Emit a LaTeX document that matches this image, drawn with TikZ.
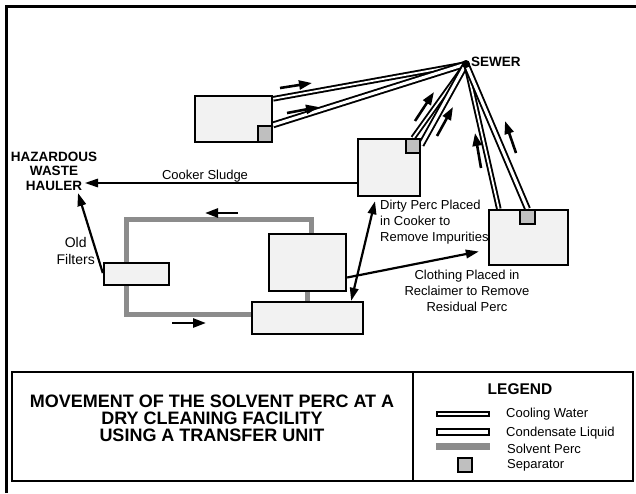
\documentclass[tikz,border=0pt]{standalone}
\usepackage{fontspec}
\setmainfont{Liberation Sans}
\usetikzlibrary{arrows.meta,backgrounds}
\definecolor{unitfill}{HTML}{F2F2F2}
\definecolor{sepfill}{HTML}{BFBFBF}
\definecolor{percgray}{HTML}{8C8C8C}

\begin{document}
\begin{tikzpicture}[x=1pt, y=-1pt,
    unit/.style={draw, line width=2.4pt, fill=unitfill, inner sep=0pt},
    sepbox/.style={draw, line width=2.2pt, fill=sepfill, inner sep=0pt, minimum size=14pt},
    perc/.style={percgray, line width=5pt},
    cooling/.style={double, line width=1.9pt, double distance=1.8pt},
    condensate/.style={double, line width=1.9pt, double distance=3pt},
    flow/.style={-{Triangle[length=13pt,width=9pt]}, line width=2.6pt},
    link/.style={-{Triangle[length=13pt,width=8.5pt]}, line width=2.2pt},
    lbl/.style={font=\fontsize{13}{16}\selectfont, align=center, inner sep=0pt},
    caps/.style={font=\fontsize{13.5}{14.5}\selectfont\bfseries, align=center, inner sep=0pt}]
    \useasboundingbox (0,0) rectangle (636,493);
    % outer frame, only top and left edges show
    \draw[line width=3pt] (6,493) -- (6,6) -- (636,6);

    % machines
    \node[unit, minimum width=77pt, minimum height=46pt] (dryer) at (233.5,119) {};
    \node[sepbox, minimum height=16pt] (drysep) at (265,134) {};
    \node[unit, minimum width=62pt, minimum height=57pt] (cooker) at (389,167.5) {};
    \node[sepbox] (cooksep) at (413,146) {};
    \node[unit, minimum width=79pt, minimum height=55pt] (reclaimer) at (528.5,237.5) {};
    \node[sepbox, minimum width=15pt] (recsep) at (527.5,217) {};
    \node[unit, minimum width=77pt, minimum height=57pt] (washer) at (307.5,262.5) {};
    \node[unit, minimum width=111pt, minimum height=32pt] (extractor) at (307.5,318) {};
    \node[unit, minimum width=65pt, minimum height=22pt] (filter) at (136.5,274) {};
    \coordinate (sewer) at (466,64);

    \begin{scope}[on background layer]
        % solvent perc loop
        \draw[perc] ([yshift=4pt]extractor.west) -| (126,219) -| ([xshift=3.5pt]washer.north);
        \draw[perc] (washer.south) -- (extractor.north);
        % cooling water and condensate to the sewer
        \draw[cooling] ([yshift=-4pt]dryer.north east) -- (sewer);
        \draw[condensate] (drysep.north east) -- (sewer);
        \draw[cooling] ([xshift=-8pt]cooksep.north east) -- (sewer);
        \draw[condensate] ([yshift=-7pt]cooksep.north east) -- (sewer);
        \draw[cooling] ([xshift=11pt]reclaimer.north west) -- (sewer);
        \draw[condensate] (recsep.north) -- (sewer);
    \end{scope}
    \fill (sewer) circle (4);

    % flow direction marks
    \foreach \xa/\ya/\xb/\yb in {280/88/312/83, 287/113/319/107, 415/121/434/92,
        437/136/453/107, 481/168/475/133, 516/153/505/121, 238/213/205/213, 172/323/206/323}
        \draw[flow] (\xa,\ya) -- (\xb,\yb);

    % labels
    \node[caps, anchor=west] (sewerlbl) at (471,62) {SEWER};
    \node[caps] (hauler) at (54,171) {HAZARDOUS\\WASTE\\HAULER};
    \coordinate (haulerin) at (85,183);
    \coordinate (haulerfoot) at (78,193);
    \node[lbl] (sludge) at (205,176) {Cooker Sludge};
    \node[lbl, font=\fontsize{14}{17}\selectfont, anchor=east] (filterlbl) at (95,251) {Old\\Filters};
    \node[lbl, align=left, anchor=west] (dirtylbl) at (380,222) {Dirty Perc Placed\\in Cooker to\\Remove Impurities};
    \node[lbl] (clothlbl) at (467,291) {Clothing Placed in\\Reclaimer to Remove\\Residual Perc};

    % material moves
    \draw[link, line width=1.6pt] ([yshift=-15.5pt]cooker.west) -- (haulerin);
    \draw[link] ([yshift=1pt]filter.west) -- (haulerfoot);
    \draw[link, {Triangle[length=13pt,width=8.5pt]}-{Triangle[length=13pt,width=8.5pt]}]
        ([xshift=-13pt]extractor.north east) -- ([xshift=-14pt,yshift=-4pt]cooker.south);
    \draw[link] ([yshift=-15pt]washer.east) -- ([xshift=-9pt,yshift=-14pt]reclaimer.west);

    % title and legend
    \node[draw, line width=2.4pt, minimum width=401pt, minimum height=109pt, inner sep=0pt] (titlebox) at (212.5,426.5) {};
    \node[draw, line width=2.4pt, minimum width=220pt, minimum height=109pt, inner sep=0pt] (legendbox) at (523,426.5) {};
    \node[font=\fontsize{18}{16.8}\selectfont\bfseries, align=center] (title) at (212,418)
        {MOVEMENT OF THE SOLVENT PERC AT A\\DRY CLEANING FACILITY\\USING A TRANSFER UNIT};
    \node[font=\fontsize{15.5}{16}\selectfont\bfseries] (legendlbl) at (520,389) {LEGEND};
    \draw[line width=2pt, fill=white] (437,412) rectangle (489,416);
    \draw[line width=2pt, fill=white] (437,429) rectangle (489,435);
    \fill[percgray] (436,443) rectangle (490,450);
    \node[sepbox] (legendsep) at (465,465) {};
    \node[lbl, anchor=west] (coolinglbl) at (506,414) {Cooling Water};
    \node[lbl, anchor=west] (condlbl) at (506,433) {Condensate Liquid};
    \node[lbl, anchor=west] (perclbl) at (507,449) {Solvent Perc};
    \node[lbl, anchor=west] (seplbl) at (507,465) {Separator};
\end{tikzpicture}
\end{document}
